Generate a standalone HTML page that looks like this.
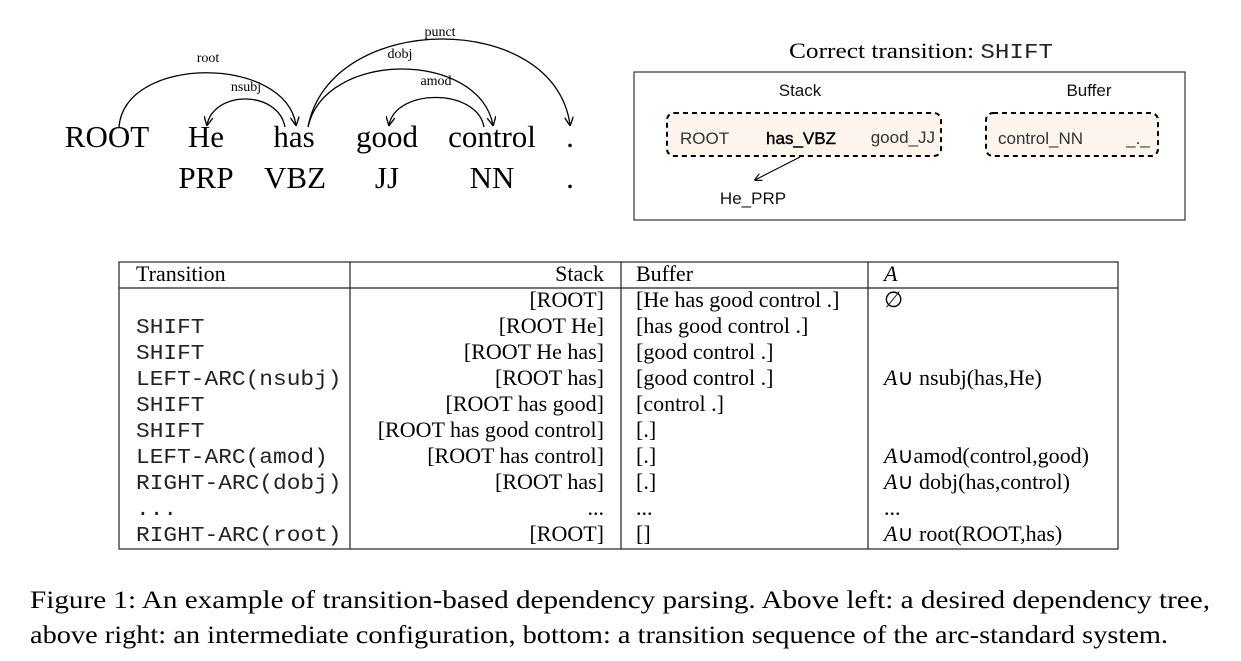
<!DOCTYPE html>
<html><head><meta charset="utf-8"><style>
html,body{margin:0;padding:0;background:#fff;}
svg{display:block;}
.serif{font-family:"Liberation Serif",serif;fill:#000;}
.sans{font-family:"Liberation Sans",sans-serif;fill:#111;}
.mono{font-family:"Liberation Mono",monospace;fill:#222;}
</style></head><body>
<svg width="1241" height="661" viewBox="0 0 1241 661">
<defs>
<marker id="ah" viewBox="0 0 10 10" refX="9" refY="5" markerWidth="7" markerHeight="7" orient="auto-start-reverse">
<path d="M0,0 L10,5 L0,10" fill="none" stroke="#000" stroke-width="1.5"/>
</marker>
</defs>

<g fill="none" stroke="#000" stroke-width="1.3">
<path d="M119,127 C125,55 285,55 296,125" marker-end="url(#ah)"/>
<path d="M285,127 C278,90 214,90 207,125" marker-end="url(#ah)"/>
<path d="M308,127 C325,50 478,50 493,125" marker-end="url(#ah)"/>
<path d="M308,127 C330,10 555,10 570,125" marker-end="url(#ah)"/>
<path d="M484,127 C477,88 396,88 389,125" marker-end="url(#ah)"/>
</g>
<g class="serif" font-size="14" text-anchor="middle">
<text x="208" y="62">root</text>
<text x="246" y="91">nsubj</text>
<text x="400" y="58">dobj</text>
<text x="440" y="36">punct</text>
<text x="436" y="85">amod</text>
</g>
<g class="serif" font-size="31" text-anchor="middle">
<text x="107" y="147">ROOT</text>
<text x="206" y="147">He</text>
<text x="294" y="147">has</text>
<text x="387" y="147">good</text>
<text x="492" y="147">control</text>
<text x="570" y="147">.</text>
<text x="206" y="188">PRP</text>
<text x="295" y="188">VBZ</text>
<text x="387" y="188">JJ</text>
<text x="492" y="188">NN</text>
<text x="570" y="188">.</text>
</g>

<text x="921" y="58" text-anchor="middle" class="serif" font-size="22" textLength="264" lengthAdjust="spacingAndGlyphs">Correct transition: <tspan class="mono" font-size="21" fill="#000">SHIFT</tspan></text>
<rect x="634" y="72" width="551" height="148" fill="none" stroke="#333" stroke-width="1.2"/>
<g class="sans" font-size="17">
<text x="800" y="96" text-anchor="middle">Stack</text>
<text x="1089" y="96" text-anchor="middle">Buffer</text>
<rect x="667" y="113" width="274" height="43" rx="7" fill="#fdf4ee" stroke="#000" stroke-width="2" stroke-dasharray="5,4"/>
<rect x="986" y="113" width="172" height="43" rx="7" fill="#fdf4ee" stroke="#000" stroke-width="2" stroke-dasharray="5,4"/>
<text x="680" y="144" fill="#333">ROOT</text>
<text x="801" y="144" text-anchor="middle" fill="#000" stroke="#000" stroke-width="0.4">has_VBZ</text>
<text x="935" y="143" text-anchor="end" fill="#333">good_JJ</text>
<text x="998" y="144" fill="#333">control_NN</text>
<text x="1138" y="144" text-anchor="middle" fill="#333">_._</text>
<line x1="800" y1="157" x2="755" y2="180" stroke="#000" stroke-width="1.1" marker-end="url(#ah)"/>
<text x="753" y="204" text-anchor="middle">He_PRP</text>
</g>

<g stroke="#222" stroke-width="1.2" fill="none">
<rect x="119" y="262" width="999" height="287"/>
<line x1="119" y1="288" x2="1118" y2="288"/>
<line x1="350" y1="262" x2="350" y2="549"/>
<line x1="621" y1="262" x2="621" y2="549"/>
<line x1="868" y1="262" x2="868" y2="549"/>
</g>
<g class="serif" font-size="22">
<text x="136" y="281">Transition</text>
<text x="604" y="281" text-anchor="end">Stack</text>
<text x="636" y="281">Buffer</text>
<text x="884" y="281" font-style="italic">A</text>
</g>
<g id="rows"></g>

<g class="serif" font-size="25">
<text x="30" y="608" textLength="1180" lengthAdjust="spacingAndGlyphs">Figure 1: An example of transition-based dependency parsing. Above left: a desired dependency tree,</text>
<text x="30" y="643" textLength="1138" lengthAdjust="spacingAndGlyphs">above right: an intermediate configuration, bottom: a transition sequence of the arc-standard system.</text>
</g>
</svg>
<script>
const transitions=["","SHIFT","SHIFT","LEFT-ARC(nsubj)","SHIFT","SHIFT","LEFT-ARC(amod)","RIGHT-ARC(dobj)","...","RIGHT-ARC(root)"];
const stacks=["[ROOT]","[ROOT He]","[ROOT He has]","[ROOT has]","[ROOT has good]","[ROOT has good control]","[ROOT has control]","[ROOT has]","...","[ROOT]"];
const buffers=["[He has good control .]","[has good control .]","[good control .]","[good control .]","[control .]","[.]","[.]","[.]","...","[]"];
const arcs=["∅","","","∪ nsubj(has,He)","","","∪amod(control,good)","∪ dobj(has,control)","...","∪ root(ROOT,has)"];
const NS="http://www.w3.org/2000/svg";
const g=document.getElementById('rows');
function t(x,y,s,cls,size,anchor){const e=document.createElementNS(NS,'text');e.setAttribute('x',x);e.setAttribute('y',y);e.setAttribute('class',cls);e.setAttribute('font-size',size);if(anchor)e.setAttribute('text-anchor',anchor);e.textContent=s;g.appendChild(e);return e;}
for(let i=0;i<transitions.length;i++){
  const y=307+i*26;
  if(transitions[i]){const e=t(136,y,transitions[i],'mono',21);
    
    
    e.setAttribute('lengthAdjust','spacingAndGlyphs');
    e.setAttribute('textLength',transitions[i].length*13.7);}
  const s=t(604,y,stacks[i],'serif',22,'end');
  
  
  const b=t(636,y,buffers[i],'serif',22);
  
  
  if(arcs[i]){
    const a=t(884,y,'','serif',22);
    
    
    if(arcs[i].startsWith('∪')){
      const ts=document.createElementNS(NS,'tspan');ts.setAttribute('font-style','italic');ts.textContent='A';a.appendChild(ts);
      a.appendChild(document.createTextNode(arcs[i]));
    } else a.textContent=arcs[i];
  }
}
</script>
</body></html>
